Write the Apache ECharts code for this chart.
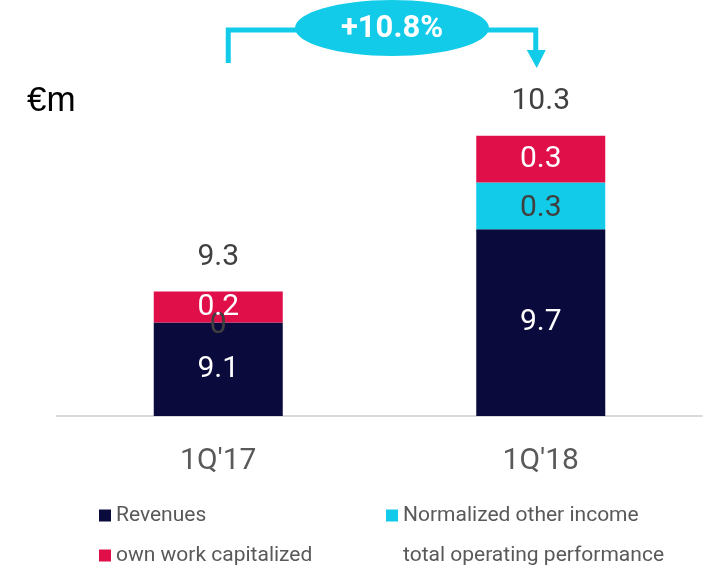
<!DOCTYPE html>
<html>
<head>
<meta charset="utf-8">
<script src="https://cdn.jsdelivr.net/npm/echarts@6/dist/echarts.min.js"></script>
<style>
  html, body { margin: 0; padding: 0; background: #fff; }
  #main { width: 709px; height: 569px; }
</style>
</head>
<body>
<div id="main"></div>
<script>
// data
var categories = ["1Q'17", "1Q'18"];
var revenues = [9.1, 9.7];
var otherIncome = [0, 0.3];
var ownWork = [0.2, 0.3];
var totals = [9.3, 10.3];
var growthLabel = '+10.8%';

var NAVY = '#0b0a3c';
var CYAN = '#12cbe8';
var RED = '#e00f4a';
var GREY = '#595959';
var FONT = 'Roboto';

var chart = echarts.init(document.getElementById('main'), null, { renderer: 'canvas' });

function legendAt(name, left, top) {
  return {
    data: [name],
    left: left,
    top: top,
    itemWidth: 12,
    itemHeight: 12,
    itemGap: 5,
    icon: 'rect',
    selectedMode: false,
    textStyle: { fontFamily: FONT, fontSize: 21, color: GREY }
  };
}

var inLabel = {
  show: true,
  position: 'inside',
  fontFamily: FONT,
  fontSize: 30,
  color: '#fff'
};

var option = {
  animation: false,
  textStyle: { fontFamily: FONT },
  grid: { left: 57, right: 7, top: 89, bottom: 153 },
  legend: [
    legendAt('Revenues', 94, 500),
    legendAt('Normalized other income', 381, 500),
    legendAt('own work capitalized', 94, 540),
    legendAt('total operating performance', 381, 540)
  ],
  xAxis: {
    type: 'category',
    data: categories,
    axisLine: { lineStyle: { color: '#d9d9d9', width: 2 } },
    axisTick: { show: false },
    axisLabel: { fontFamily: FONT, fontSize: 30, color: GREY, margin: 30 }
  },
  yAxis: {
    type: 'value',
    min: 8.5,
    max: 10.6,
    show: false,
    splitLine: { show: false }
  },
  series: [
    {
      name: 'Revenues', type: 'bar', stack: 'op', barWidth: 129,
      data: revenues,
      itemStyle: { color: NAVY },
      label: inLabel
    },
    {
      name: 'Normalized other income', type: 'bar', stack: 'op', barWidth: 129,
      data: otherIncome,
      itemStyle: { color: CYAN },
      label: Object.assign({}, inLabel, { color: '#404040', offset: [0, 3] })
    },
    {
      name: 'own work capitalized', type: 'bar', stack: 'op', barWidth: 129,
      data: ownWork,
      itemStyle: { color: RED },
      label: inLabel
    },
    {
      name: 'total operating performance', type: 'bar', barWidth: 129, barGap: '-100%',
      data: totals,
      itemStyle: { color: 'rgba(0,0,0,0)' },
      label: {
        show: true, position: 'top', distance: 19,
        fontFamily: FONT, fontSize: 30, color: '#404040'
      },
      z: 1
    }
  ]
};
chart.setOption(option);

// growth annotation, anchored on the two category positions
var x1 = chart.convertToPixel({ xAxisIndex: 0 }, 0) + 10;
var x2 = chart.convertToPixel({ xAxisIndex: 0 }, 1) - 5;
var yLine = 30;
var midX = (x1 + x2) / 2 + 10;

chart.setOption({
  graphic: [
    {
      type: 'text', left: 27, top: 84,
      style: { text: '€m', font: '35px "Liberation Sans"', fill: '#000' }
    },
    {
      type: 'polyline',
      shape: { points: [[x1, 63], [x1, yLine], [x2, yLine], [x2, 52]] },
      style: { stroke: CYAN, lineWidth: 5, fill: null }
    },
    {
      type: 'polygon',
      shape: { points: [[x2 - 9, 50], [x2 + 10, 50], [x2 + 1, 68]] },
      style: { fill: CYAN }
    },
    {
      type: 'ellipse',
      shape: { cx: midX, cy: 28, rx: 97, ry: 28 },
      style: { fill: CYAN }
    },
    {
      type: 'text', x: midX, y: 29,
      style: {
        text: growthLabel, align: 'center', verticalAlign: 'middle',
        font: 'bold 31px Roboto', fill: '#fff'
      }
    }
  ]
});
</script>
</body>
</html>
